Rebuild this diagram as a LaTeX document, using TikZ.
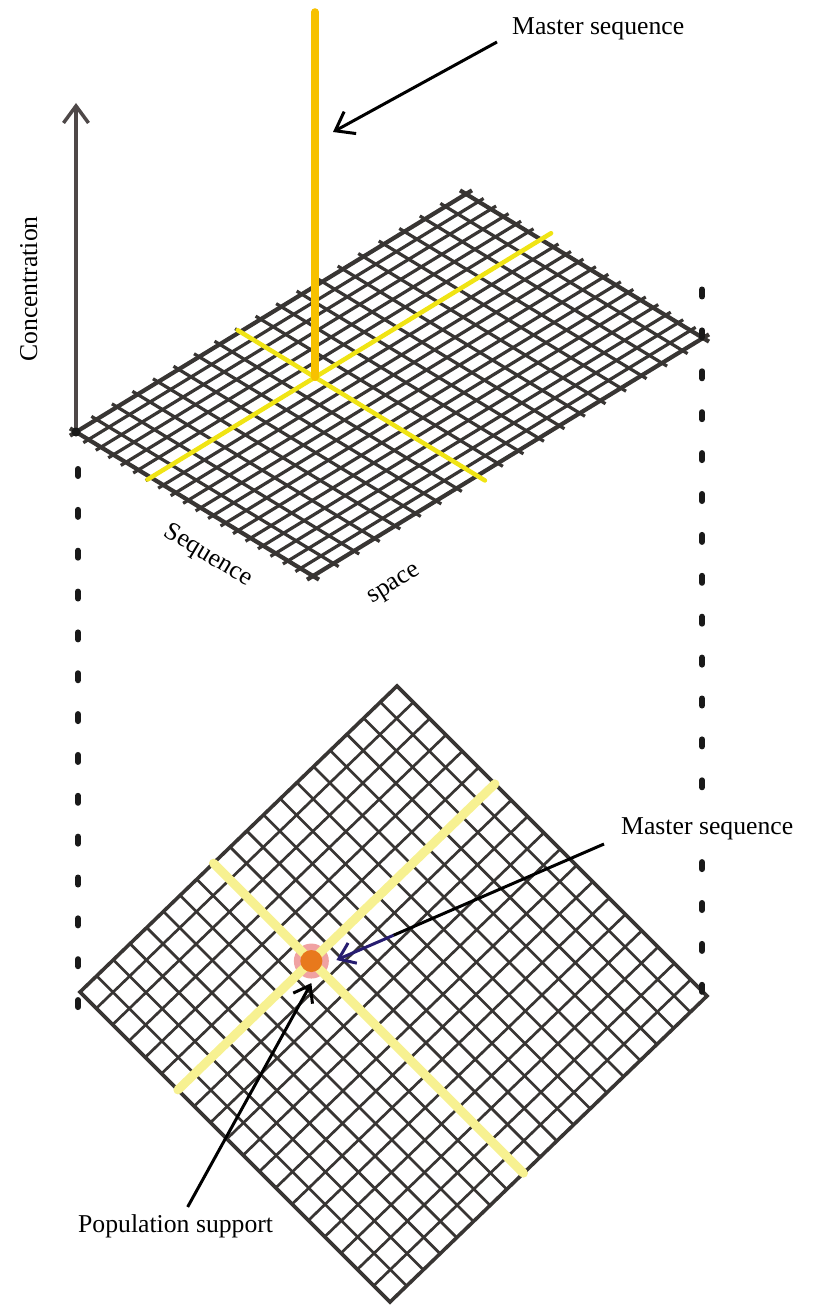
\documentclass[tikz,border=0pt]{standalone}
\usepackage{fontspec}
\setmainfont{Liberation Serif}
\usetikzlibrary{calc, positioning, arrows.meta}

\definecolor{gridgray}{RGB}{56,53,51}
\definecolor{axisgray}{RGB}{78,72,72}
\definecolor{barorange}{RGB}{247,193,0}
\definecolor{lineyellow}{RGB}{240,228,20}
\definecolor{paleyellow}{RGB}{247,241,145}
\definecolor{dotorange}{RGB}{232,121,28}
\definecolor{halopink}{RGB}{240,162,162}
\definecolor{arrownavy}{RGB}{38,28,112}

\begin{document}
\begin{tikzpicture}[x=1pt, y=-1pt,
    lbl/.style={font=\fontsize{25.7}{30}\selectfont, inner sep=0pt},
    gridline/.style={draw=gridgray, line width=3.2pt},
    rimline/.style={draw=gridgray, line width=4.2pt},
    dotmark/.style={draw=black!90, line width=6pt, line cap=round},
    barb/.style={line width=3pt, -{Straight Barb[length=15pt, width=22pt]}}]
    \useasboundingbox (0,0) rectangle (814,1305);

    % Upper sheet: sequence plane seen obliquely, L/T/B/R = corners
    \coordinate (L) at (76,432);
    \coordinate (T) at (466,194);
    \coordinate (B) at (313,576);
    \coordinate (R) at (703,338);

    % 19 x 19 cells, lines run a little past the rim
    \foreach \i in {1,...,18} {
        \draw[gridline, shorten <=-6pt, shorten >=-6pt]
            ($(L)!{\i/19}!(T)$) -- ($(B)!{\i/19}!(R)$);
        \draw[gridline, shorten <=-6pt, shorten >=-6pt]
            ($(L)!{\i/19}!(B)$) -- ($(T)!{\i/19}!(R)$);
    }
    \foreach \a/\b in {L/T, B/R, L/B, T/R}
        \draw[rimline, shorten <=-7pt, shorten >=-7pt] (\a) -- (\b);

    % Yellow cross through the master sequence
    \coordinate (ya1) at ($(L)!{6/19}!(B)$);
    \coordinate (ya2) at ($(T)!{6/19}!(R)$);
    \coordinate (yb1) at ($(L)!{8/19}!(T)$);
    \coordinate (yb2) at ($(B)!{8/19}!(R)$);
    \draw[lineyellow, line width=4.5pt, line cap=round, shorten <=-4pt, shorten >=-12pt] (ya1) -- (ya2);
    \draw[lineyellow, line width=4.5pt, line cap=round, shorten <=-3pt, shorten >=-9pt] (yb1) -- (yb2);
    \coordinate (peak) at (intersection of ya1--ya2 and yb1--yb2);

    % Concentration peak of the master sequence
    \coordinate (bartop) at (315,12);
    \draw[barorange, line width=7.5pt, line cap=round] (peak) -- (peak |- bartop);

    % Concentration axis
    \coordinate (axtop) at (76,103);
    \draw[axisgray, line width=3.5pt, -{Straight Barb[length=17pt, width=25pt]}] (L) -- (axtop);
    \fill[black!90] (L) circle (4.5);

    % Lower sheet: the same plane seen from above
    \coordinate (L2) at (80,992);
    \coordinate (T2) at (397,686);
    \coordinate (B2) at (390,1302);
    \coordinate (R2) at (707,996);
    \foreach \i in {1,...,18} {
        \draw[gridline, line width=2.7pt] ($(L2)!{\i/19}!(T2)$) -- ($(B2)!{\i/19}!(R2)$);
        \draw[gridline, line width=2.7pt] ($(L2)!{\i/19}!(B2)$) -- ($(T2)!{\i/19}!(R2)$);
    }
    \draw[rimline, line width=3.6pt] (L2) -- (T2) -- (R2) -- (B2) -- cycle;

    \coordinate (yc1) at ($(L2)!{6/19}!(B2)$);
    \coordinate (yc2) at ($(T2)!{6/19}!(R2)$);
    \coordinate (yd1) at ($(L2)!{8/19}!(T2)$);
    \coordinate (yd2) at ($(B2)!{8/19}!(R2)$);
    \coordinate (support) at (intersection of yc1--yc2 and yd1--yd2);
    \node[circle, fill=halopink, minimum size=35pt, inner sep=0pt] (halo) at (support) {};
    \draw[paleyellow, line width=9pt, line cap=round] (yc1) -- (yc2);
    \draw[paleyellow, line width=9pt, line cap=round] (yd1) -- (yd2);
    \node[circle, fill=dotorange, minimum size=22pt, inner sep=0pt] (master) at (support) {};

    % Dotted drop lines between the two sheets
    \foreach \k in {0,...,13}
        \draw[dotmark] (78,{469+40.85*\k}) -- ++(0,7);
    \foreach \k in {0,...,17}
        \draw[dotmark] (702,{289.5+40.9*\k}) -- ++(0,7);

    % Labels
    \node[lbl, rotate=90, anchor=base west] (conc) at (37,362) {Concentration};
    \node[lbl, rotate=-31] (seqlbl) at (208,556) {Sequence};
    \node[lbl, rotate=32] (spacelbl) at (395,586) {space};

    % Master sequence (top) pointing at the peak
    \node[lbl, anchor=base west] (mstop) at (512,35) {Master sequence};
    \coordinate (mstip) at (333,132);
    \draw[line width=3pt, -{Straight Barb[length=17pt, width=25pt]}]
        ([xshift=-15pt, yshift=-7pt]mstop.base west) -- (mstip);

    % Master sequence (bottom): black shaft, navy end
    \node[lbl, anchor=base west, fill=white] (msbot) at (621,834) {Master sequence};
    \coordinate (msbtip) at ([xshift=25pt, yshift=1pt]master.center);
    \coordinate (msbtail) at ([xshift=-17pt, yshift=-10pt]msbot.base west);
    \coordinate (navystart) at ($(msbtail)!0.787!(msbtip)$);
    \draw[black, line width=3pt] (msbtail) -- (navystart);
    \draw[barb, arrownavy] (navystart) -- (msbtip);

    % Population support
    \node[lbl, anchor=base west] (pop) at (78,1232) {Population support};
    \draw[barb] ([xshift=12pt, yshift=7pt]pop.north) -- ([yshift=-22pt]master.center);
\end{tikzpicture}
\end{document}
